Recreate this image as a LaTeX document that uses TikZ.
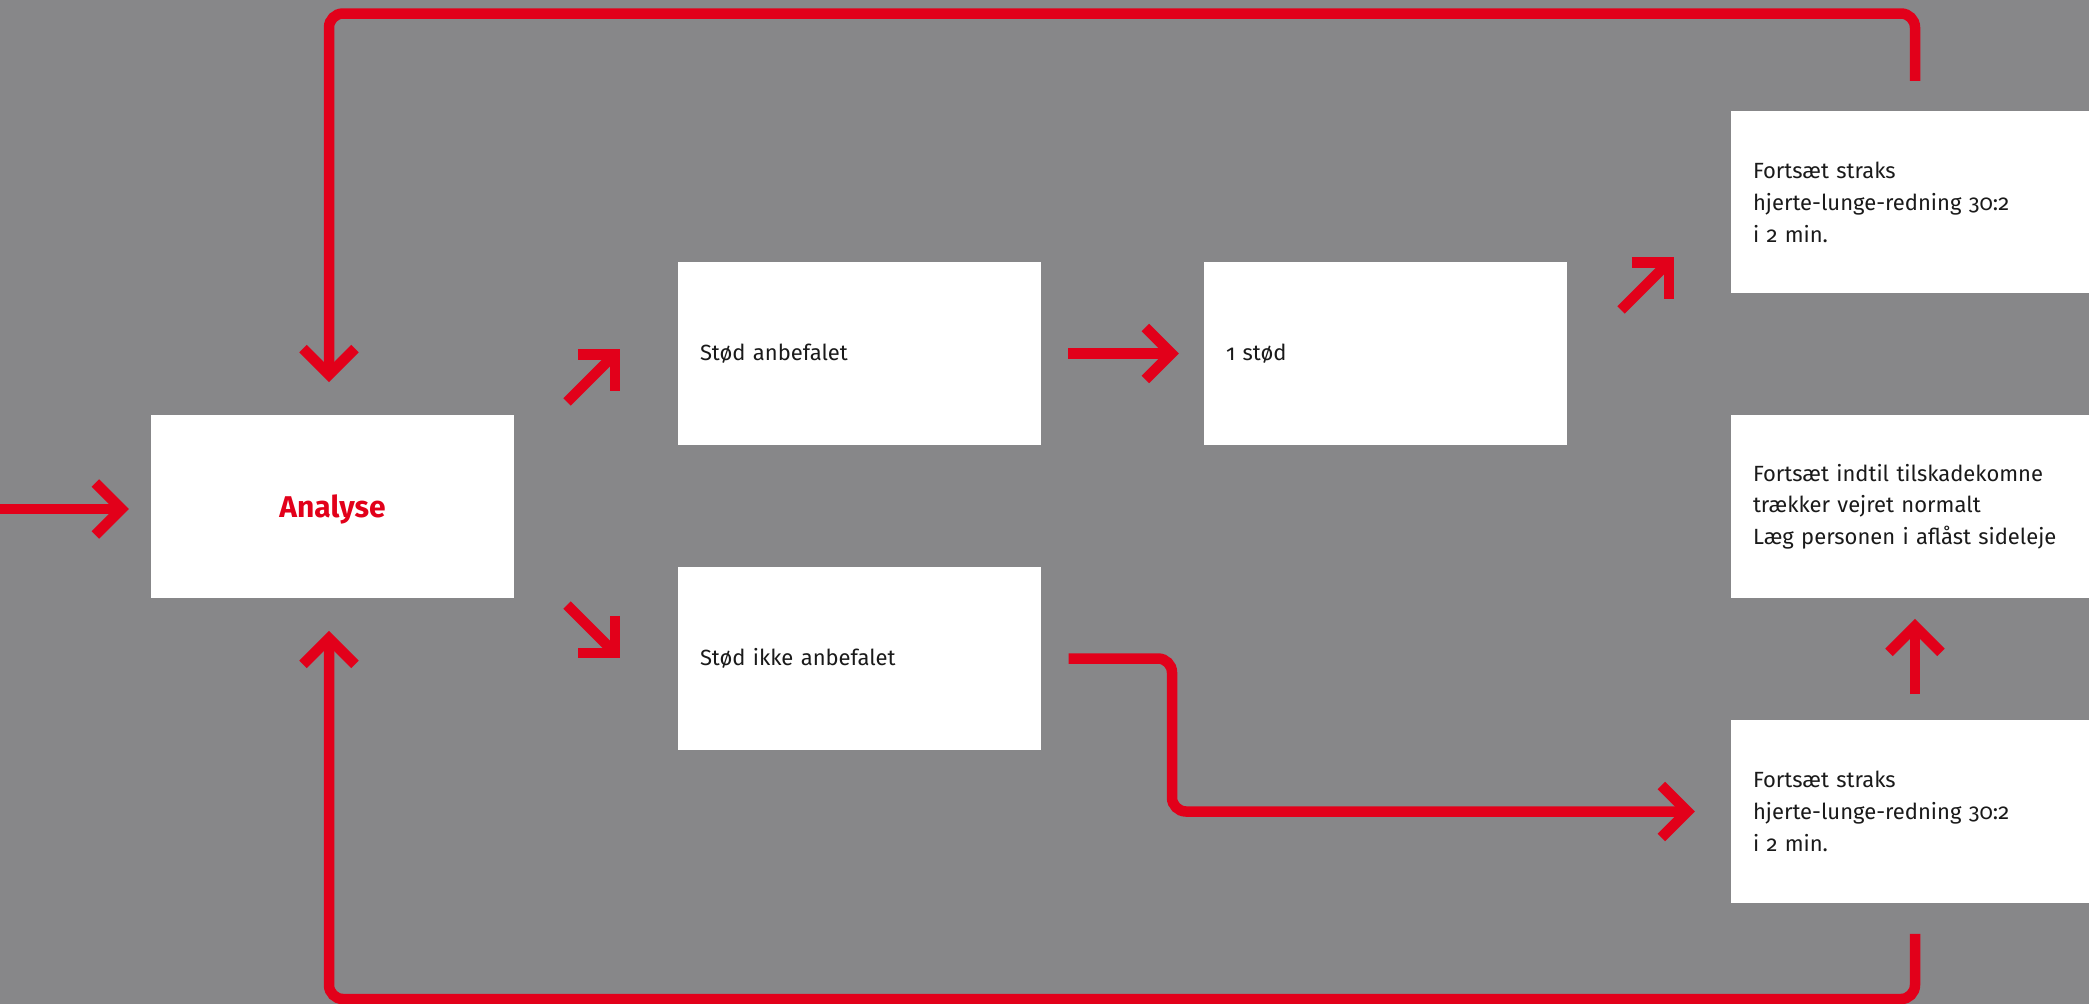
\documentclass[tikz,border=0pt]{standalone}
\usepackage{fontspec}
\setmainfont{Fira Sans}[Numbers=OldStyle]
\usetikzlibrary{arrows.meta,calc}
\definecolor{bg}{RGB}{135,135,137}
\definecolor{fred}{RGB}{226,0,26}
\definecolor{ink}{RGB}{26,26,26}
\begin{document}
\begin{tikzpicture}[x=1pt,y=-1pt,
  box/.style={fill=white, minimum width=363pt, minimum height=182.5pt,
    inner xsep=22pt, inner ysep=0pt, text width=319pt, align=left,
    font=\fontsize{22}{31.7}\selectfont, text=ink},
  arr/.style={draw=fred, line width=10.5pt,
    -{Straight Barb[length=26pt,width=52pt]}}]
\useasboundingbox (0,0) rectangle (2089,1004);
\fill[bg] (0,0) rectangle (2089,1004);

\node[box, align=center, text depth=0pt, font=\bfseries\fontsize{30}{34}\selectfont, text=fred]
  (analyse) at (332.5,506.5) {Analyse};
\node[box] (sa)   at (859.5,353.5) {Stød anbefalet};
\node[box] (sia)  at (859.5,658.5) {Stød ikke anbefalet};
\node[box] (one)  at (1385.5,353.5) {1 stød};
\node[box] (ftop) at (1912.5,202.2) {Fortsæt straks\\hjerte-lunge-redning 30:2\\i 2 min.};
\node[box] (fmid) at (1912.5,506.5) {Fortsæt indtil tilskadekomne\\trækker vejret normalt\\Læg personen i aflåst sideleje};
\node[box] (fbot) at (1912.5,811.5) {Fortsæt straks\\hjerte-lunge-redning 30:2\\i 2 min.};

\coordinate (lx) at (329,0);
\coordinate (rx) at (1915,0);
\coordinate (kx) at (1172,0);
\coordinate (topy) at (0,13.5);
\coordinate (boty) at (0,999);
\coordinate (inS) at (-10,509);
\coordinate (d1a) at (567,402);   \coordinate (d1b) at (620,349);
\coordinate (d2a) at (567,605);   \coordinate (d2b) at (620,658);
\coordinate (d3a) at (1621,310);  \coordinate (d3b) at (1674,257);

\draw[arr, shorten >=22pt] (inS) -- (inS -| analyse.west);
\draw[arr, rounded corners=14pt, shorten <=30pt, shorten >=33pt]
  (rx |- ftop.north) |- (lx |- topy) -- (lx |- analyse.north);
\draw[arr, rounded corners=14pt, shorten <=31pt, shorten >=33pt]
  (rx |- fbot.south) |- (lx |- boty) -- (lx |- analyse.south);
\draw[arr, shorten <=26pt, shorten >=21pt] (rx |- fbot.north) -- (rx |- fmid.south);
\draw[arr, shorten <=27pt, shorten >=25pt] (sa.east) -- (one.west);
\draw[arr, rounded corners=14pt, shorten <=27.5pt, shorten >=36pt]
  (sia.east) -| (kx |- fbot.west) -- (fbot.west);
\draw[arr] (d1a) -- (d1b);
\draw[arr] (d2a) -- (d2b);
\draw[arr] (d3a) -- (d3b);
\end{tikzpicture}
\end{document}
